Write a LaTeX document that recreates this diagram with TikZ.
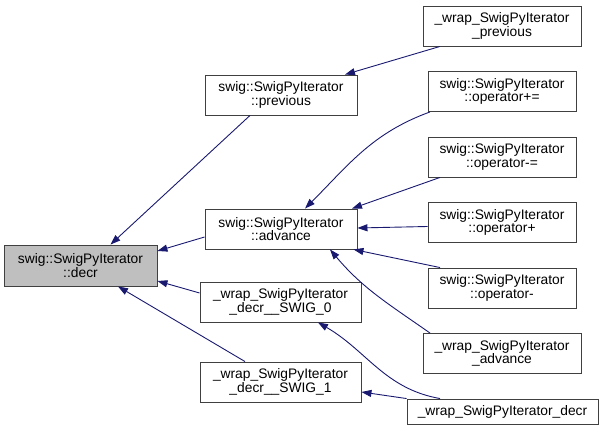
\documentclass[tikz,border=0pt]{standalone}
\usepackage{fontspec}
\setmainfont{Liberation Sans}
\usepackage{xcolor}
\usepackage{tikz}
\usetikzlibrary{arrows.meta, positioning}
\definecolor{edgeblue}{HTML}{191970}
\definecolor{nodegray}{HTML}{BFBFBF}

\begin{document}
\begin{tikzpicture}[x=1pt, y=1pt, node distance=65.5pt, >={Triangle[length=10pt,width=7pt]}]
    \tikzstyle{func} = [rectangle, draw=black!75, line width=0.9pt, fill=white, align=center, minimum height=40pt, inner sep=2pt, font=\fontsize{13.8}{13.5}\selectfont]
    \tikzstyle{target} = [func, fill=nodegray]
    \tikzstyle{line} = [draw=edgeblue, ->, line width=0.9pt]

    \useasboundingbox (0,0) rectangle (604,430);

    \node [target, minimum width=153pt, minimum height=41pt] (decr) at (80.5,164.5) {swig::SwigPyIterator\\::decr};
    \node [func, minimum width=152pt] (prev) at (281,335) {swig::SwigPyIterator\\::previous};
    \node [func, minimum width=152pt] (adv) at (281,201) {swig::SwigPyIterator\\::advance};
    \node [func, minimum width=161pt] (decr0) at (280.5,128) {\_wrap\_SwigPyIterator\\\_decr\_\_SWIG\_0};
    \node [func, minimum width=161pt] (decr1) at (280.5,48) {\_wrap\_SwigPyIterator\\\_decr\_\_SWIG\_1};

    \node [func, minimum width=158pt] (wprev) at (502,404) {\_wrap\_SwigPyIterator\\\_previous};
    \node [func, minimum width=148pt, below of=wprev] (opaddeq) {swig::SwigPyIterator\\::operator+=};
    \node [func, minimum width=148pt, below of=opaddeq] (opsubeq) {swig::SwigPyIterator\\::operator-=};
    \node [func, minimum width=148pt, below of=opsubeq] (opadd) {swig::SwigPyIterator\\::operator+};
    \node [func, minimum width=148pt, below of=opadd] (opsub) {swig::SwigPyIterator\\::operator-};
    \node [func, minimum width=158pt, below of=opsub] (wadv) {\_wrap\_SwigPyIterator\\\_advance};
    \node [func, minimum width=191pt, minimum height=25pt] (wdecr) at (502.5,18.5) {\_wrap\_SwigPyIterator\_decr};

    % callers of decr
    \path [line] ([xshift=-31pt]prev.south) -- ([xshift=30pt]decr.north);
    \path [line] ([yshift=-8pt]adv.west) -- ([yshift=14.5pt]decr.east);
    \path [line] ([yshift=9pt]decr0.west) -- ([yshift=-15.5pt]decr.east);
    \path [line] ([xshift=-35.5pt]decr1.north) -- ([xshift=37.5pt]decr.south);

    % callers of previous / advance
    \path [line] ([xshift=-62pt]wprev.south) -- ([xshift=64pt]prev.north);
    \path [line] ([xshift=-72pt]opaddeq.south) to[out=200, in=45] ([xshift=24pt]adv.north);
    \path [line] ([xshift=-62pt]opsubeq.south) -- ([xshift=71pt]adv.north);
    \path [line] ([yshift=-4pt]opadd.west) -- ([yshift=1pt]adv.east);
    \path [line] ([xshift=-62pt]opsub.north) -- ([xshift=-4pt]adv.south east);
    \path [line] ([xshift=-72pt]wadv.north) to[out=145, in=-50] ([xshift=49pt]adv.south);

    % callers of the SWIG wrappers
    \path [line] ([xshift=-62.5pt]wdecr.north) to[out=170, in=-30] ([xshift=37.5pt]decr0.south);
    \path [line] (wdecr.north west) -- ([yshift=-10pt]decr1.east);
\end{tikzpicture}
\end{document}
